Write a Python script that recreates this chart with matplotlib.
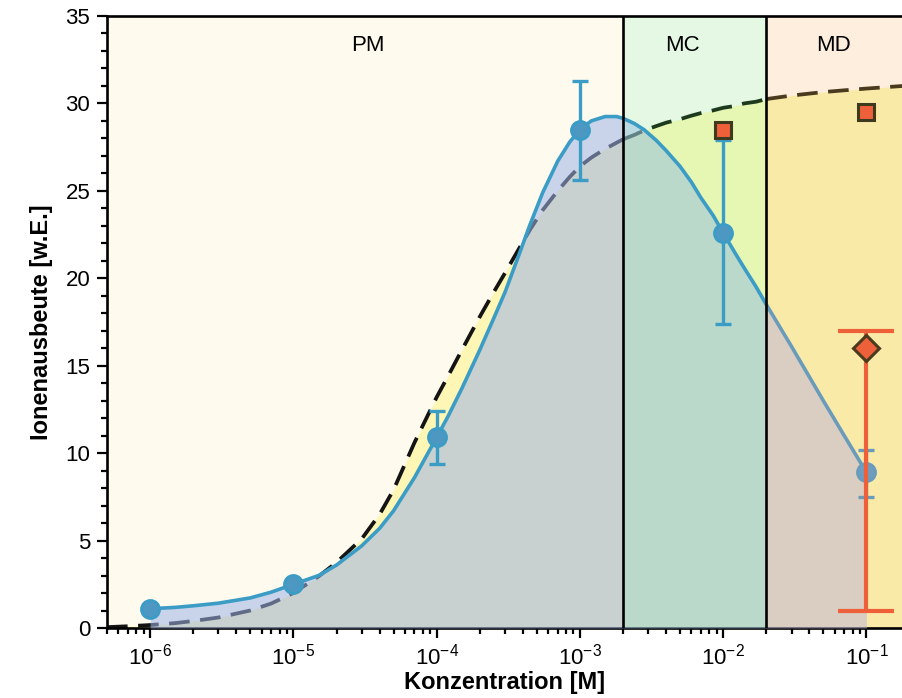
import matplotlib
matplotlib.use("Agg")
import matplotlib.pyplot as plt
import numpy as np

plt.rcParams["font.family"] = ["Liberation Sans", "DejaVu Sans"]
plt.rcParams["mathtext.fontset"] = "custom"
plt.rcParams["mathtext.rm"] = "Liberation Sans"
plt.rcParams["mathtext.it"] = "Liberation Sans:italic"
plt.rcParams["mathtext.bf"] = "Liberation Sans:bold"
plt.rcParams["mathtext.default"] = "regular"
plt.rcParams["axes.unicode_minus"] = False

# fit curves on a shared concentration grid
fit_conc = np.array([5e-7, 7e-7, 1e-6, 1.5e-6, 2e-6, 3e-6, 5e-6, 7e-6, 1e-5, 1.5e-5,
                     2e-5, 3e-5, 4e-5, 5e-5, 7e-5, 1e-4, 1.2e-4, 1.5e-4, 2e-4, 2.5e-4,
                     3e-4, 3.7e-4, 4.5e-4, 5.5e-4, 7e-4, 8.5e-4, 1e-3, 1.2e-3, 1.5e-3,
                     1.8e-3, 2e-3, 2.4e-3, 2.8e-3, 3.4e-3, 4e-3, 5e-3, 6e-3, 7e-3,
                     8.5e-3, 1e-2, 1.2e-2, 1.4e-2, 1.7e-2, 2e-2, 3e-2, 5e-2, 7e-2,
                     1e-1, 1.8e-1])
dashed_fit = np.array([0.05, 0.1, 0.17, 0.28, 0.4, 0.6, 1.0, 1.4, 2.0, 2.95,
                       3.75, 5.1, 6.5, 7.9, 10.6, 13.2, 14.4, 15.9, 17.8, 19.2,
                       20.3, 21.6, 22.8, 23.9, 25.0, 25.8, 26.4, 26.9, 27.4,
                       27.75, 27.95, 28.2, 28.45, 28.7, 28.9, 29.1, 29.3, 29.45,
                       29.6, 29.75, 29.85, 30.0, 30.1, 30.25, 30.45, 30.65, 30.75,
                       30.85, 31.0])
yield_fit = np.array([np.nan, np.nan, 1.1, 1.18, 1.27, 1.42, 1.72, 2.05, 2.5, 3.0,
                      3.6, 4.7, 5.7, 6.7, 8.6, 10.9, 12.1, 13.7, 15.9, 17.7,
                      19.2, 21.2, 23.1, 24.9, 26.7, 27.8, 28.5, 29.0, 29.25,
                      29.25, 29.15, 28.85, 28.5, 27.9, 27.3, 26.4, 25.5, 24.6,
                      23.6, 22.6, 21.5, 20.6, 19.5, 18.5, 16.1, 13.0, 11.0,
                      8.9, np.nan])

# measured points
conc = [1e-6, 1e-5, 1e-4, 1e-3, 1e-2, 1e-1]
ion_yield = [1.1, 2.5, 10.9, 28.5, 22.6, 8.9]
err_conc = [1e-4, 1e-3, 1e-2, 1e-1]
err_low = [9.4, 25.6, 17.4, 7.5]
err_high = [12.4, 31.3, 27.9, 10.2]
square_conc = [1e-2, 1e-1]
square_yield = [28.5, 29.5]
diamond_conc = [1e-1]
diamond_yield = [16.0]
diamond_low = [1.0]
diamond_high = [17.0]

regions = ["PM", "MC", "MD"]
region_edges = [5e-7, 2e-3, 2e-2, 1.8e-1]

bg_cols = ["#FEFBEE", "#E4F8E4", "#FEEEDD"]
yel_cols = ["#FDF6B4", "#E5F7B2", "#FAEAA8"]
blue_fill_cols = ["#9EB4E7", "#9AC1DF", "#BEB7D7"]
dash_cols = ["#141414", "#1E3A1C", "#4A3A1E"]
blue = "#3B9CC6"
muted = "#6A9BBB"
orange = "#EE603A"

fig = plt.figure(figsize=(9.03, 6.98), dpi=100)
ax = fig.add_axes([107 / 903, 70 / 698, 796 / 903, 612 / 698])

for i, name in enumerate(regions):
    lo, hi = region_edges[i], region_edges[i + 1]
    ax.axvspan(lo, hi, color=bg_cols[i], lw=0, zorder=0)
    m = (fit_conc >= lo) & (fit_conc <= hi)
    ax.fill_between(fit_conc[m], 0, dashed_fit[m], color=yel_cols[i], lw=0, zorder=1)
    ax.plot(fit_conc[m], dashed_fit[m], color=dash_cols[i], lw=2.7,
            ls=(0, (5.5, 2.8)), zorder=2)
    mb = m & ~np.isnan(yield_fit)
    ax.fill_between(fit_conc[mb], 0, yield_fit[mb], color=blue_fill_cols[i],
                    alpha=0.55, lw=0, zorder=3)

ax.text(10 ** -4.48, 33.3, "PM", fontsize=16, ha="center", va="center", zorder=10)
ax.text(5.2e-3, 33.3, "MC", fontsize=16, ha="center", va="center", zorder=10)
ax.text(0.059, 33.3, "MD", fontsize=16, ha="center", va="center", zorder=10)

for edge in region_edges[1:3]:
    ax.axvline(edge, color="black", lw=1.9, zorder=6)

# fitted yield curve
ok = ~np.isnan(yield_fit)
left = ok & (fit_conc <= 2e-2)
right = ok & (fit_conc >= 2e-2)
ax.plot(fit_conc[left], yield_fit[left], color=blue, lw=2.6, zorder=5,
        solid_capstyle="round", solid_joinstyle="round")
ax.plot(fit_conc[right], yield_fit[right], color=muted, lw=2.6, zorder=5,
        solid_capstyle="round")

# error bars
for i, c in enumerate(err_conc):
    col = muted if c >= 0.1 else blue
    y = ion_yield[conc.index(c)]
    ax.errorbar([c], [y], yerr=[[y - err_low[i]], [err_high[i] - y]], fmt="none",
                ecolor=col, elinewidth=2.4, capsize=6, capthick=2.4, zorder=6)

for c, y in zip(conc, ion_yield):
    col = muted if c >= 0.1 else blue
    face = "#6E9DBF" if c >= 0.1 else "#4C98C2"
    ax.plot([c], [y], "o", ms=13, mfc=face, mec=col, mew=2, zorder=7)

ax.errorbar(diamond_conc, diamond_yield,
            yerr=[[d - l for d, l in zip(diamond_yield, diamond_low)],
                  [h - d for d, h in zip(diamond_yield, diamond_high)]],
            fmt="none", ecolor=orange, elinewidth=3, capsize=20, capthick=3, zorder=8)
ax.plot(diamond_conc, diamond_yield, "D", ms=13, mfc=orange, mec="#4A3A1E",
        mew=2.2, zorder=9)
ax.plot(square_conc, square_yield, "s", ms=12, mfc=orange, mec="#3E3A1E",
        mew=2.2, zorder=9)

ax.set_xscale("log")
ax.set_xlim(5e-7, 1.8e-1)
ax.set_ylim(0, 35)
ax.set_xticks([1e-6, 1e-5, 1e-4, 1e-3, 1e-2, 1e-1])
ax.set_yticks(range(0, 36, 5))
ax.set_yticks(range(0, 36), minor=True)
ax.tick_params(which="major", direction="out", length=7, width=1.6,
               labelsize=16, pad=4)
ax.tick_params(which="minor", direction="out", length=4, width=1.6)
ax.tick_params(axis="y", which="major", pad=5)

for s in ["left", "bottom", "top"]:
    ax.spines[s].set_linewidth(1.9)
ax.spines["right"].set_visible(False)

ax.set_xlabel("Konzentration [M]", fontsize=17, fontweight="bold", labelpad=1)
ax.set_ylabel("Ionenausbeute [w.E.]", fontsize=17, fontweight="bold", labelpad=9)

fig.savefig("out.png", dpi=100)
